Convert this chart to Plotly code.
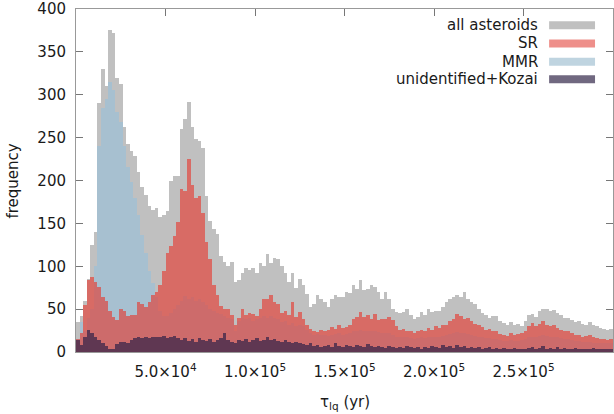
import plotly.graph_objects as go

# ---- data (histogram counts per 2000-yr bin) ----
BIN_WIDTH = 2000
all_asteroids = [35, 42, 60, 85, 125, 140, 290, 330, 310, 375, 372, 320, 312, 262, 242, 234, 228, 210, 193, 183,
                 170, 166, 168, 158, 160, 165, 200, 205, 205, 260, 272, 292, 262, 248, 246, 238, 182, 153, 143, 138,
                 112, 105, 100, 105, 82, 84, 92, 98, 96, 98, 92, 104, 100, 114, 104, 110, 108, 100, 92, 82,
                 92, 75, 85, 78, 68, 52, 56, 66, 62, 58, 52, 62, 66, 64, 64, 70, 69, 78, 74, 84,
                 72, 74, 78, 76, 70, 62, 70, 62, 50, 47, 46, 47, 50, 43, 38, 41, 47, 43, 50, 47,
                 48, 48, 53, 58, 62, 64, 66, 64, 70, 62, 58, 56, 50, 46, 43, 40, 42, 42, 36, 34,
                 32, 35, 32, 33, 30, 36, 43, 44, 41, 48, 50, 50, 48, 49, 46, 43, 40, 40, 37, 35,
                 36, 33, 32, 35, 31, 30, 28, 27, 26, 27]
sr = [15, 22, 55, 84, 88, 82, 76, 64, 60, 48, 41, 37, 50, 48, 42, 43, 43, 58, 56, 53,
      58, 67, 70, 78, 95, 116, 124, 135, 152, 190, 188, 225, 195, 180, 182, 162, 128, 108, 78, 66,
      54, 50, 50, 43, 32, 40, 50, 43, 45, 44, 42, 50, 62, 62, 66, 58, 56, 45, 48, 43,
      58, 41, 47, 39, 32, 27, 25, 23, 26, 25, 26, 29, 27, 32, 28, 29, 31, 39, 41, 47,
      41, 43, 38, 44, 37, 38, 38, 41, 37, 30, 26, 27, 24, 24, 22, 24, 26, 25, 28, 26,
      30, 28, 32, 32, 36, 38, 44, 42, 38, 40, 36, 33, 31, 29, 26, 27, 24, 24, 21, 20,
      19, 22, 20, 21, 22, 25, 30, 34, 30, 33, 36, 32, 30, 31, 28, 26, 24, 24, 22, 20,
      20, 18, 19, 20, 17, 16, 15, 15, 14, 15]
mmr = [15, 35, 25, 40, 50, 100, 240, 285, 295, 315, 305, 280, 268, 240, 216, 198, 180, 160, 136, 116,
       95, 80, 64, 48, 42, 42, 45, 50, 55, 60, 65, 62, 64, 60, 62, 58, 55, 50, 48, 45,
       44, 42, 40, 38, 25, 36, 40, 38, 40, 36, 38, 40, 42, 40, 42, 40, 38, 35, 36, 32,
       34, 30, 32, 30, 26, 22, 20, 21, 20, 20, 19, 20, 21, 22, 20, 21, 22, 24, 25, 26,
       24, 25, 24, 25, 23, 22, 22, 22, 20, 18, 17, 18, 17, 16, 15, 16, 17, 16, 18, 17,
       18, 18, 19, 20, 21, 22, 23, 22, 22, 21, 20, 19, 18, 17, 16, 16, 15, 15, 14, 13,
       13, 14, 13, 13, 14, 15, 17, 18, 18, 19, 20, 19, 18, 18, 17, 16, 15, 15, 14, 13,
       13, 12, 12, 12, 11, 11, 10, 10, 10, 10]
kozai = [14, 8, 18, 26, 22, 18, 14, 10, 7, 4, 4, 9, 12, 12, 11, 14, 16, 17, 16, 18,
         16, 18, 17, 18, 19, 16, 18, 19, 16, 14, 16, 13, 15, 12, 16, 14, 13, 15, 12, 14,
         16, 22, 14, 12, 11, 14, 13, 15, 12, 14, 16, 13, 14, 17, 14, 15, 13, 12, 14, 12,
         10, 12, 10, 9, 8, 10, 7, 8, 6, 7, 8, 6, 10, 7, 6, 8, 7, 6, 8, 7,
         6, 9, 7, 6, 7, 6, 5, 7, 6, 5, 6, 5, 7, 6, 5, 6, 4, 6, 5, 7,
         6, 5, 8, 6, 7, 5, 8, 6, 7, 5, 6, 5, 6, 4, 5, 6, 4, 5, 4, 5,
         3, 4, 5, 4, 3, 4, 5, 6, 4, 5, 7, 4, 5, 4, 6, 4, 5, 3, 4, 5,
         3, 4, 3, 4, 5, 3, 4, 3, 4, 3]

series_names = ["all asteroids", "SR", "MMR", "unidentified+Kozai"]
series_data = {"all asteroids": all_asteroids, "SR": sr, "MMR": mmr, "unidentified+Kozai": kozai}
series_colors = {"all asteroids": "rgba(192,192,192,1)", "SR": "rgba(232,45,35,0.58)",
                 "MMR": "rgba(150,192,218,0.6)", "unidentified+Kozai": "rgba(52,34,72,0.72)"}
legend_swatch = {"all asteroids": "#c0c0c0", "SR": "#ee8f8a", "MMR": "#bfd4e0", "unidentified+Kozai": "#706880"}
draw_order = ["all asteroids", "MMR", "SR", "unidentified+Kozai"]

x_tickvals = [50000, 100000, 150000, 200000, 250000]
x_ticktext = ["5.0×10<sup>4</sup>", "1.0×10<sup>5</sup>", "1.5×10<sup>5</sup>",
              "2.0×10<sup>5</sup>", "2.5×10<sup>5</sup>"]
y_tickvals = [0, 50, 100, 150, 200, 250, 300, 350, 400]

FONT = "DejaVu Sans"
W, H = 614, 414
L, R, T, B = 76, 0, 7, 62
PW, PH = W - L - R, H - T - B

fig = go.Figure()
for name in draw_order:
    vals = series_data[name]
    xs = [BIN_WIDTH * (i + 0.5) for i in range(len(vals))]
    fig.add_trace(go.Bar(x=xs, y=vals, name=name, width=BIN_WIDTH,
                         marker=dict(color=series_colors[name], line=dict(width=0)), showlegend=False))

def px_to_paper_x(px):
    return (px - L) / PW

def py_to_paper_y(py):
    return (T + PH - py) / PH

annotations = []
shapes = []
rows_y = [23.3, 41.7, 60.0, 77.7]
for name, ry in zip(series_names, rows_y):
    annotations.append(dict(text=name, x=px_to_paper_x(541), y=py_to_paper_y(ry), xref="paper", yref="paper",
                            xanchor="right", yanchor="middle", showarrow=False,
                            font=dict(family=FONT, size=15, color="#1a1a1a")))
    shapes.append(dict(type="rect", xref="paper", yref="paper",
                       x0=px_to_paper_x(550), x1=px_to_paper_x(596),
                       y0=py_to_paper_y(ry + 4), y1=py_to_paper_y(ry - 4),
                       fillcolor=legend_swatch[name], line=dict(width=0)))

annotations.append(dict(text="τ<sub>lq</sub> (yr)", x=px_to_paper_x(345), y=py_to_paper_y(403),
                        xref="paper", yref="paper", xanchor="center", yanchor="middle", showarrow=False,
                        font=dict(family=FONT, size=15, color="#1a1a1a")))
annotations.append(dict(text="frequency", x=px_to_paper_x(12.5), y=py_to_paper_y(180),
                        xref="paper", yref="paper", xanchor="center", yanchor="middle", showarrow=False,
                        textangle=-90, font=dict(family=FONT, size=15, color="#1a1a1a")))

fig.update_layout(
    width=W, height=H, margin=dict(l=L, r=R, t=T, b=B, pad=0),
    paper_bgcolor="white", plot_bgcolor="white",
    barmode="overlay", bargap=0,
    font=dict(family=FONT, size=15, color="#1a1a1a"),
    annotations=annotations, shapes=shapes,
    xaxis=dict(range=[0, 300000], tickvals=x_tickvals, ticktext=x_ticktext,
               ticks="inside", ticklen=7, tickcolor="#777", tickwidth=1,
               showline=True, linecolor="#999", linewidth=1, mirror="ticks",
               showgrid=False, zeroline=False, layer="below traces",
               ticklabeloverflow="allow", ticklabelstandoff=6,
               tickfont=dict(family=FONT, size=15, color="#1a1a1a")),
    yaxis=dict(range=[0, 400], tickvals=y_tickvals,
               ticks="inside", ticklen=7, tickcolor="#777", tickwidth=1,
               showline=True, linecolor="#999", linewidth=1, mirror="ticks",
               showgrid=False, zeroline=False, layer="below traces",
               ticklabeloverflow="allow", ticklabelstandoff=6,
               tickfont=dict(family=FONT, size=15, color="#1a1a1a")),
)

fig.write_html("out.html")
